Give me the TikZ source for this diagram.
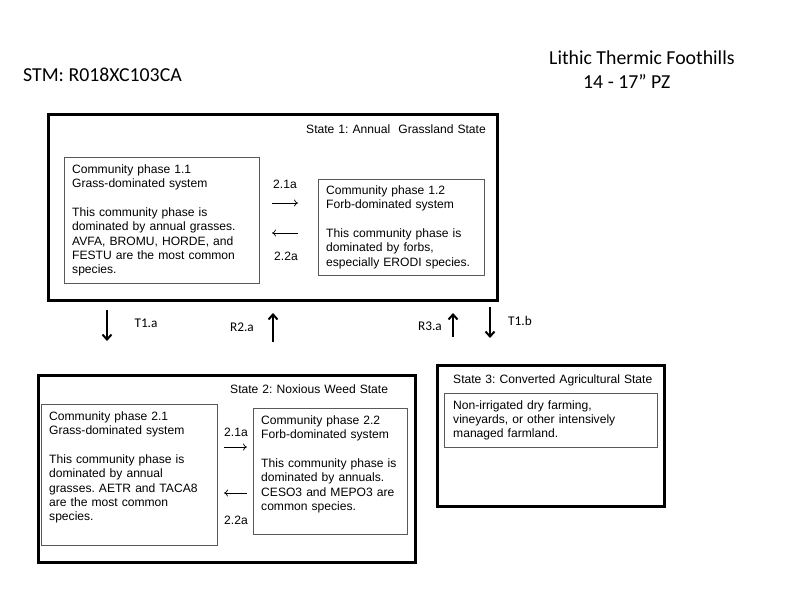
\documentclass[tikz,border=0pt]{standalone}
\usepackage{fontspec}
\setmainfont{Liberation Sans}
\newfontfamily\calibri{Carlito}
\usetikzlibrary{arrows.meta,positioning}
\frenchspacing

\begin{document}
\begin{tikzpicture}[x=1pt,y=-1pt,
  statebox/.style={draw,line width=2.5pt,anchor=north west,inner sep=0pt},
  phasebox/.style={draw=black!65,line width=0.9pt,anchor=north west,inner sep=0pt},
  body/.style={anchor=base west,inner sep=0pt,text width=300pt,align=left,
    font=\fontsize{12.1}{14.4}\selectfont},
  head/.style={anchor=base west,inner sep=0pt,font=\calibri\fontsize{19.8}{22}\selectfont},
  tlabel/.style={inner sep=0pt,font=\calibri\fontsize{13.3}{15}\selectfont},
  plabel/.style={inner sep=0pt,font=\fontsize{12.1}{14.4}\selectfont},
  bigarrow/.style={line width=2pt,-{Straight Barb[length=5pt,width=9pt]}},
  smallarrow/.style={line width=0.7pt,-{To[length=4pt,width=7pt]}}]
\useasboundingbox (0,0) rectangle (800,600);

\node[head] (stm) at (23,81.7) {STM: R018XC103CA};
\node[head] (site) at (549,64) {Lithic Thermic Foothills};
\node[head] (pz) at (583,88.3) {14 - 17” PZ};

% states and phases
\node[statebox,minimum width=449pt,minimum height=186pt] (s1) at (47,113) {};
\node[phasebox,minimum width=195pt,minimum height=126pt] (p11) at (64,157) {};
\node[phasebox,minimum width=166pt,minimum height=96pt] (p12) at (318,179) {};
\node[statebox,minimum width=377pt,minimum height=187pt] (s2) at (37,374) {};
\node[phasebox,minimum width=176pt,minimum height=141pt] (p21) at (41,404) {};
\node[phasebox,minimum width=154pt,minimum height=126pt] (p22) at (253,408) {};
\node[statebox,minimum width=227pt,minimum height=141pt] (s3) at (436,364) {};
\node[phasebox,minimum width=213pt,minimum height=54pt] (p31) at (444,393) {};

\node[body] (s1title) at (306,133) {State 1: Annual\ \ Grassland State};
\node[body] (p11text) at (72,173) {Community phase 1.1\\Grass-dominated system\\[14.4pt]
  This community phase is\\dominated by annual grasses.\\AVFA, BROMU, HORDE, and\\
  FESTU are the most common\\species.};
\node[body] (p12text) at (326,194) {Community phase 1.2\\Forb-dominated system\\[14.4pt]
  This community phase is\\dominated by forbs,\\especially ERODI species.};
\node[body] (s2title) at (230,393) {State 2: Noxious Weed State};
\node[body] (p21text) at (49,420) {Community phase 2.1\\Grass-dominated system\\[14.4pt]
  This community phase is\\dominated by annual\\grasses. AETR and TACA8\\
  are the most common\\species.};
\node[body] (p22text) at (261,424) {Community phase 2.2\\Forb-dominated system\\[14.4pt]
  This community phase is\\dominated by annuals.\\CESO3 and MEPO3 are\\common species.};
\node[body] (s3title) at (453,383) {State 3: Converted Agricultural State};
\node[body] (p31text) at (453,409) {Non-irrigated\ dry farming,\\vineyards, or other intensively\\
  managed farmland.};

% pathways inside states
\coordinate (a11) at (272,203); \coordinate (a12) at (298,203);
\coordinate (b11) at (272,233); \coordinate (b12) at (298,233);
\coordinate (a21) at (224,447); \coordinate (a22) at (247,447);
\coordinate (b21) at (224,493); \coordinate (b22) at (247,493);
\draw[smallarrow] (a11) -- (a12);
\draw[smallarrow] (b12) -- (b11);
\draw[smallarrow] (a21) -- (a22);
\draw[smallarrow] (b22) -- (b21);
\node[plabel] (l11) at (285,184) {2.1a};
\node[plabel] (l12) at (286,256) {2.2a};
\node[plabel] (l21) at (236,432) {2.1a};
\node[plabel] (l22) at (236,520) {2.2a};

% transitions
\coordinate (t1a1) at (107,310); \coordinate (t1a2) at (107,341);
\coordinate (r2a1) at (273,342); \coordinate (r2a2) at (273,313);
\coordinate (r3a1) at (453,337); \coordinate (r3a2) at (453,313);
\coordinate (t1b1) at (490,307); \coordinate (t1b2) at (490,338);
\draw[bigarrow] (t1a1) -- (t1a2);
\draw[bigarrow] (r2a1) -- (r2a2);
\draw[bigarrow] (r3a1) -- (r3a2);
\draw[bigarrow] (t1b1) -- (t1b2);
\node[tlabel] (t1a) at (146,323) {T1.a};
\node[tlabel] (r2a) at (242,327) {R2.a};
\node[tlabel] (r3a) at (430,326) {R3.a};
\node[tlabel] (t1b) at (520,321) {T1.b};
\end{tikzpicture}
\end{document}
